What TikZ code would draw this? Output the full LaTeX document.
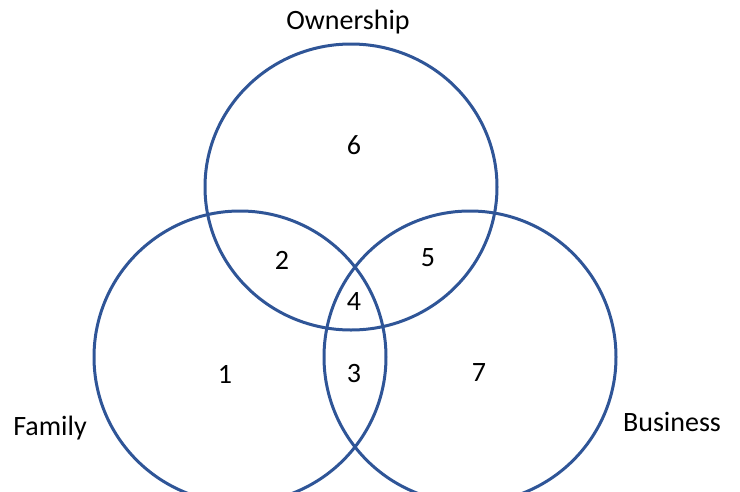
\documentclass[tikz,border=0pt]{standalone}
\usepackage{fontspec}
\setmainfont{Carlito}
\usepackage{xcolor}
\usepackage{tikz}
\usetikzlibrary{positioning}
\definecolor{vennblue}{HTML}{2F5597}

\begin{document}
\begin{tikzpicture}[
    x=1pt, y=-1pt,
    ring/.style={
        draw=vennblue,
        line width=3pt
    },
    lbl/.style={
        inner sep=0pt,
        font=\fontsize{28}{33}\selectfont
    }
]

\useasboundingbox (0,0) rectangle (740,491);
\clip (0,0) rectangle (740,491);

% the three sets
\draw[ring] (351,187) ellipse (146pt and 143pt);
\draw[ring] (240,357) ellipse (146pt and 146pt);
\draw[ring] (470,357) ellipse (146pt and 146pt);

\node[lbl] (own) at (348,22) {Ownership};
\node[lbl] (fam) at (50,428) {Family};
\node[lbl] (bus) at (672,422) {Business};

\node[lbl] (n6) at (354,145) {6};
\node[lbl] (n2) at (282,260) {2};
\node[lbl] (n5) at (428,258) {5};
\node[lbl] (n4) at (354,302) {4};
\node[lbl] (n1) at (225,374) {1};
\node[lbl] (n3) at (354,374) {3};
\node[lbl] (n7) at (479,373) {7};

\end{tikzpicture}
\end{document}
